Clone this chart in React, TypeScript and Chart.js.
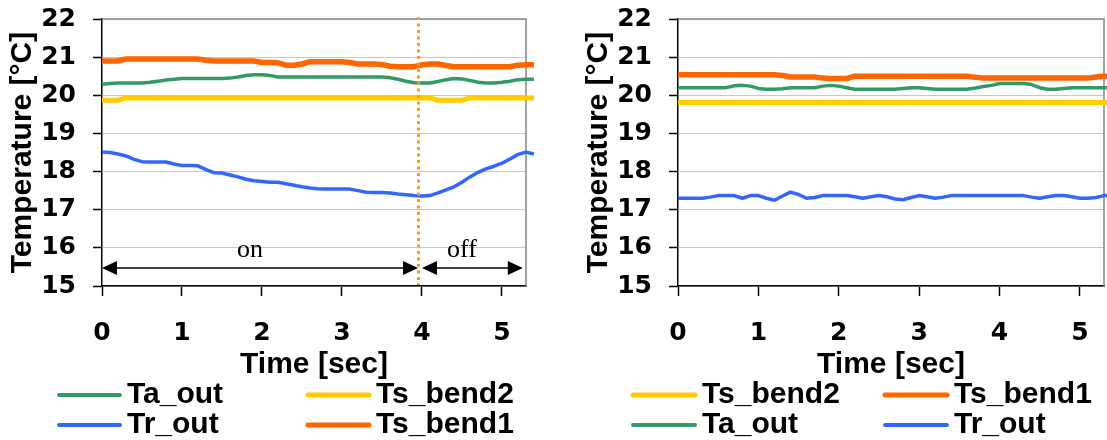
import React, { useEffect, useRef } from 'react';
import { Chart, registerables } from 'chart.js';

Chart.register(...registerables);

// ---------- data ----------
const timeSec = [
  0, 0.1, 0.2, 0.3, 0.4, 0.5, 0.6, 0.7, 0.8, 0.9,
  1, 1.1, 1.2, 1.3, 1.4, 1.5, 1.6, 1.7, 1.8, 1.9,
  2, 2.1, 2.2, 2.3, 2.4, 2.5, 2.6, 2.7, 2.8, 2.9,
  3, 3.1, 3.2, 3.3, 3.4, 3.5, 3.6, 3.7, 3.8, 3.9,
  4, 4.1, 4.2, 4.3, 4.4, 4.5, 4.6, 4.7, 4.8, 4.9,
  5, 5.1, 5.2, 5.3, 5.4,
];
const timeTicks = [0, 1, 2, 3, 4, 5];
const tempTicks = [15, 16, 17, 18, 19, 20, 21, 22];
const timeMin = 0;
const timeMax = 5.3001;
const tempMin = 15;
const tempMax = 22;

// left chart (switching on / off)
const leftTsBend1 = [
  20.9, 20.9, 20.9, 20.95, 20.95, 20.95, 20.95, 20.95, 20.95, 20.95,
  20.95, 20.95, 20.95, 20.92, 20.9, 20.9, 20.9, 20.9, 20.9, 20.9,
  20.86, 20.86, 20.85, 20.79, 20.79, 20.82, 20.88, 20.88, 20.88, 20.88,
  20.88, 20.86, 20.82, 20.82, 20.82, 20.81, 20.76, 20.75, 20.75, 20.75,
  20.8, 20.82, 20.82, 20.78, 20.75, 20.75, 20.75, 20.75, 20.75, 20.75,
  20.75, 20.75, 20.79, 20.8, 20.8,
];
const leftTsBend2 = [
  19.87, 19.87, 19.87, 19.93, 19.93, 19.93, 19.93, 19.93, 19.93, 19.93,
  19.93, 19.93, 19.93, 19.93, 19.93, 19.93, 19.93, 19.93, 19.93, 19.93,
  19.93, 19.93, 19.93, 19.93, 19.93, 19.93, 19.93, 19.93, 19.93, 19.93,
  19.93, 19.93, 19.93, 19.93, 19.93, 19.93, 19.93, 19.93, 19.93, 19.93,
  19.93, 19.93, 19.87, 19.87, 19.87, 19.87, 19.93, 19.93, 19.93, 19.93,
  19.93, 19.93, 19.93, 19.93, 19.93,
];
const leftTaOut = [
  20.29, 20.31, 20.32, 20.32, 20.32, 20.32, 20.34, 20.37, 20.4, 20.42,
  20.44, 20.44, 20.44, 20.44, 20.44, 20.44, 20.45, 20.48, 20.52, 20.54,
  20.54, 20.52, 20.48, 20.48, 20.48, 20.48, 20.48, 20.48, 20.48, 20.48,
  20.48, 20.48, 20.48, 20.48, 20.48, 20.48, 20.46, 20.42, 20.37, 20.33,
  20.32, 20.32, 20.36, 20.41, 20.44, 20.43, 20.39, 20.34, 20.32, 20.32,
  20.34, 20.37, 20.41, 20.42, 20.42,
];
const leftTrOut = [
  18.51, 18.5, 18.46, 18.41, 18.32, 18.26, 18.25, 18.25, 18.25, 18.2,
  18.16, 18.16, 18.15, 18.05, 17.97, 17.96, 17.91, 17.86, 17.8, 17.76,
  17.74, 17.72, 17.72, 17.68, 17.64, 17.6, 17.57, 17.55, 17.54, 17.54,
  17.54, 17.54, 17.5, 17.46, 17.45, 17.45, 17.44, 17.41, 17.39, 17.37,
  17.36, 17.37, 17.44, 17.52, 17.6, 17.72, 17.86, 17.98, 18.07, 18.14,
  18.22, 18.33, 18.45, 18.51, 18.46,
];

// right chart
const rightTsBend1 = [
  20.54, 20.54, 20.54, 20.54, 20.54, 20.54, 20.54, 20.54, 20.54, 20.54,
  20.54, 20.54, 20.54, 20.52, 20.48, 20.48, 20.48, 20.48, 20.45, 20.44,
  20.44, 20.44, 20.5, 20.5, 20.5, 20.5, 20.5, 20.5, 20.5, 20.5,
  20.5, 20.5, 20.5, 20.5, 20.5, 20.5, 20.5, 20.47, 20.45, 20.45,
  20.45, 20.45, 20.45, 20.45, 20.45, 20.45, 20.45, 20.45, 20.45, 20.45,
  20.45, 20.45, 20.48, 20.5, 20.5,
];
const rightTsBend2 = [
  19.81, 19.81, 19.81, 19.81, 19.81, 19.81, 19.81, 19.81, 19.81, 19.81,
  19.81, 19.81, 19.81, 19.81, 19.81, 19.81, 19.81, 19.81, 19.81, 19.81,
  19.81, 19.81, 19.81, 19.81, 19.81, 19.81, 19.81, 19.81, 19.81, 19.81,
  19.81, 19.81, 19.81, 19.81, 19.81, 19.81, 19.81, 19.81, 19.81, 19.81,
  19.81, 19.81, 19.81, 19.81, 19.81, 19.81, 19.81, 19.81, 19.81, 19.81,
  19.81, 19.81, 19.81, 19.81, 19.81,
];
const rightTaOut = [
  20.2, 20.2, 20.2, 20.2, 20.2, 20.2, 20.2, 20.25, 20.26, 20.24,
  20.18, 20.16, 20.16, 20.17, 20.2, 20.2, 20.2, 20.2, 20.24, 20.26,
  20.24, 20.2, 20.16, 20.16, 20.16, 20.16, 20.16, 20.16, 20.18, 20.2,
  20.2, 20.18, 20.16, 20.16, 20.16, 20.16, 20.16, 20.19, 20.23, 20.26,
  20.31, 20.31, 20.31, 20.31, 20.28, 20.2, 20.16, 20.16, 20.18, 20.2,
  20.2, 20.2, 20.2, 20.2, 20.2,
];
const rightTrOut = [
  17.3, 17.3, 17.3, 17.3, 17.33, 17.37, 17.37, 17.37, 17.3, 17.37,
  17.37, 17.3, 17.25, 17.36, 17.46, 17.4, 17.3, 17.32, 17.37, 17.37,
  17.37, 17.37, 17.34, 17.3, 17.34, 17.37, 17.34, 17.28, 17.26, 17.32,
  17.37, 17.34, 17.3, 17.33, 17.37, 17.37, 17.37, 17.37, 17.37, 17.37,
  17.37, 17.37, 17.37, 17.37, 17.33, 17.3, 17.34, 17.37, 17.37, 17.34,
  17.3, 17.3, 17.32, 17.37, 17.37,
];

// annotations of the left chart
const switchTime = 3.95;
const onSpan = [0, 3.95];
const offSpan = [4.0, 5.26];
const arrowLevel = 15.47;
const phaseLabels = ['on', 'off'];
const phaseLabelTimes = [1.85, 4.5];
const phaseLabelLevel = 15.76;

const leftLegendOrder = ['Ta_out', 'Ts_bend2', 'Tr_out', 'Ts_bend1'];
const rightLegendOrder = ['Ts_bend2', 'Ts_bend1', 'Ta_out', 'Tr_out'];

// ---------- styles ----------
const FONT_SANS = "'Liberation Sans', Arial, sans-serif";
const FONT_TICK = "'DejaVu Sans', sans-serif";
const FONT_SERIF = "'Liberation Serif', 'Times New Roman', serif";

const COLORS: Record<string, string> = {
  Ta_out: '#339966',
  Tr_out: '#3366FF',
  Ts_bend1: '#FF6600',
  Ts_bend2: '#FFCC00',
};
const LINE_W: Record<string, number> = { Ta_out: 3.5, Tr_out: 3.5, Ts_bend1: 5.5, Ts_bend2: 5 };
const LEGEND_W: Record<string, number> = { Ta_out: 4, Tr_out: 4, Ts_bend1: 5, Ts_bend2: 5 };

type LegendSpec = { order: string[]; colX: number[]; rowY: number[]; lineLen: number; gap: number };

function makeDataset(label: string, values: number[]) {
  return {
    label,
    data: values.map((v, i) => ({ x: timeSec[i], y: v })),
    borderColor: COLORS[label],
    backgroundColor: COLORS[label],
    borderWidth: LINE_W[label],
    pointRadius: 0,
    tension: 0,
    fill: false,
    clip: false as any,
    borderJoinStyle: 'round' as const,
  };
}

function makeDecor(legend: LegendSpec, withAnno: boolean) {
  return {
    id: 'decor',
    beforeDatasetsDraw(chart: any) {
      const { ctx, chartArea: a } = chart;
      ctx.save();
      ctx.strokeStyle = '#868686';
      ctx.lineWidth = 1.5;
      ctx.beginPath();
      ctx.moveTo(a.left, a.top);
      ctx.lineTo(a.right, a.top);
      ctx.lineTo(a.right, a.bottom);
      ctx.stroke();
      ctx.restore();
    },
    afterDatasetsDraw(chart: any) {
      if (!withAnno) return;
      const { ctx, chartArea: a } = chart;
      const xs = chart.scales.x;
      const ys = chart.scales.y;
      ctx.save();
      const y = ys.getPixelForValue(arrowLevel);
      const drawArrow = (t0: number, t1: number) => {
        const x0 = xs.getPixelForValue(t0);
        const x1 = xs.getPixelForValue(t1);
        ctx.strokeStyle = '#000';
        ctx.fillStyle = '#000';
        ctx.lineWidth = 1.5;
        ctx.beginPath();
        ctx.moveTo(x0 + 8, y);
        ctx.lineTo(x1 - 8, y);
        ctx.stroke();
        ctx.beginPath();
        ctx.moveTo(x0, y);
        ctx.lineTo(x0 + 15, y - 7);
        ctx.lineTo(x0 + 15, y + 7);
        ctx.closePath();
        ctx.fill();
        ctx.beginPath();
        ctx.moveTo(x1, y);
        ctx.lineTo(x1 - 15, y - 7);
        ctx.lineTo(x1 - 15, y + 7);
        ctx.closePath();
        ctx.fill();
      };
      drawArrow(onSpan[0], onSpan[1]);
      drawArrow(offSpan[0], offSpan[1]);
      ctx.font = `26px ${FONT_SERIF}`;
      ctx.fillStyle = '#000';
      ctx.textAlign = 'center';
      ctx.textBaseline = 'alphabetic';
      phaseLabels.forEach((lab, i) => {
        ctx.fillText(lab, xs.getPixelForValue(phaseLabelTimes[i]), ys.getPixelForValue(phaseLabelLevel));
      });
      const sx = Math.round(xs.getPixelForValue(switchTime)) + 0.5;
      ctx.strokeStyle = '#F99F1B';
      ctx.lineWidth = 3;
      ctx.setLineDash([3, 3.5]);
      ctx.beginPath();
      ctx.moveTo(sx, a.top - 2);
      ctx.lineTo(sx, a.bottom - 1);
      ctx.stroke();
      ctx.restore();
    },
    afterDraw(chart: any) {
      const { ctx } = chart;
      ctx.save();
      ctx.font = `bold 30px ${FONT_SANS}`;
      ctx.fillStyle = '#000';
      ctx.textAlign = 'left';
      ctx.textBaseline = 'alphabetic';
      legend.order.forEach((label, i) => {
        const col = i % 2;
        const row = Math.floor(i / 2);
        const x = legend.colX[col];
        const y = legend.rowY[row];
        ctx.strokeStyle = COLORS[label];
        ctx.lineWidth = LEGEND_W[label];
        ctx.lineCap = 'round';
        ctx.beginPath();
        ctx.moveTo(x, y);
        ctx.lineTo(x + legend.lineLen, y);
        ctx.stroke();
        ctx.fillText(label, x + legend.lineLen + legend.gap, y + 8);
      });
      ctx.restore();
    },
  };
}

function makeConfig(
  series: { label: string; values: number[] }[],
  padRight: number,
  legend: LegendSpec,
  withAnno: boolean
): any {
  const tickFont = { family: FONT_TICK, size: 25, weight: 'bold' as const };
  const titleFont = { family: FONT_SANS, size: 30, weight: 'bold' as const, lineHeight: 1 };
  return {
    type: 'line',
    data: { datasets: series.map((s) => makeDataset(s.label, s.values)) },
    options: {
      responsive: false,
      animation: false,
      events: [],
      layout: { padding: { top: 19, right: padRight, bottom: 0, left: 0 } },
      plugins: { legend: { display: false }, tooltip: { enabled: false } },
      scales: {
        x: {
          type: 'linear',
          min: timeMin,
          max: timeMax,
          afterBuildTicks: (s: any) => {
            s.ticks = timeTicks.map((v) => ({ value: v }));
          },
          afterFit: (s: any) => {
            s.height = 154;
            s.paddingLeft = 0;
            s.paddingRight = 0;
          },
          grid: { drawOnChartArea: false, drawTicks: true, tickLength: 10, tickColor: '#000', tickWidth: 1.5 },
          border: { display: true, color: '#000', width: 1.5 },
          ticks: { color: '#000', font: tickFont, padding: 22, maxRotation: 0, autoSkip: false },
          title: {
            display: true,
            text: 'Time [sec]',
            color: '#000',
            font: titleFont,
            padding: { top: 0, bottom: 60 },
          },
        },
        y: {
          type: 'linear',
          min: tempMin,
          max: tempMax,
          afterBuildTicks: (s: any) => {
            s.ticks = tempTicks.map((v) => ({ value: v }));
          },
          afterFit: (s: any) => {
            s.width = 102;
            s.paddingTop = 0;
            s.paddingBottom = 0;
          },
          grid: { color: '#C8C8C8', lineWidth: 1, tickLength: 9, tickColor: '#000', tickWidth: 1.5 },
          border: { display: true, color: '#000', width: 1.5 },
          ticks: { color: '#000', font: tickFont, padding: 17, autoSkip: false },
          title: {
            display: true,
            text: 'Temperature [°C]',
            color: '#000',
            font: titleFont,
            padding: { top: 8, bottom: 0 },
          },
        },
      },
    },
    plugins: [makeDecor(legend, withAnno)],
  };
}

function ChartCanvas({ left, width, build }: { left: number; width: number; build: () => any }) {
  const ref = useRef<HTMLCanvasElement>(null);
  useEffect(() => {
    const chart = new Chart(ref.current as HTMLCanvasElement, build());
    return () => chart.destroy();
  }, []);
  return (
    <canvas
      ref={ref}
      width={width}
      height={440}
      style={{ position: 'absolute', left, top: 0, width, height: 440, display: 'block' }}
    />
  );
}

export default function App() {
  const buildLeft = () =>
    makeConfig(
      [
        { label: 'Ta_out', values: leftTaOut },
        { label: 'Ts_bend2', values: leftTsBend2 },
        { label: 'Tr_out', values: leftTrOut },
        { label: 'Ts_bend1', values: leftTsBend1 },
      ],
      50,
      { order: leftLegendOrder, colX: [59, 308], rowY: [395, 425], lineLen: 61, gap: 7 },
      true
    );
  const buildRight = () =>
    makeConfig(
      [
        { label: 'Ts_bend2', values: rightTsBend2 },
        { label: 'Ts_bend1', values: rightTsBend1 },
        { label: 'Ta_out', values: rightTaOut },
        { label: 'Tr_out', values: rightTrOut },
      ],
      3,
      { order: rightLegendOrder, colX: [57, 309], rowY: [395, 425], lineLen: 62, gap: 7 },
      false
    );
  return (
    <div style={{ position: 'fixed', left: 0, top: 0, width: 1107, height: 440, background: '#fff', overflow: 'hidden' }}>
      <ChartCanvas left={0} width={576} build={buildLeft} />
      <ChartCanvas left={576} width={531} build={buildRight} />
    </div>
  );
}
